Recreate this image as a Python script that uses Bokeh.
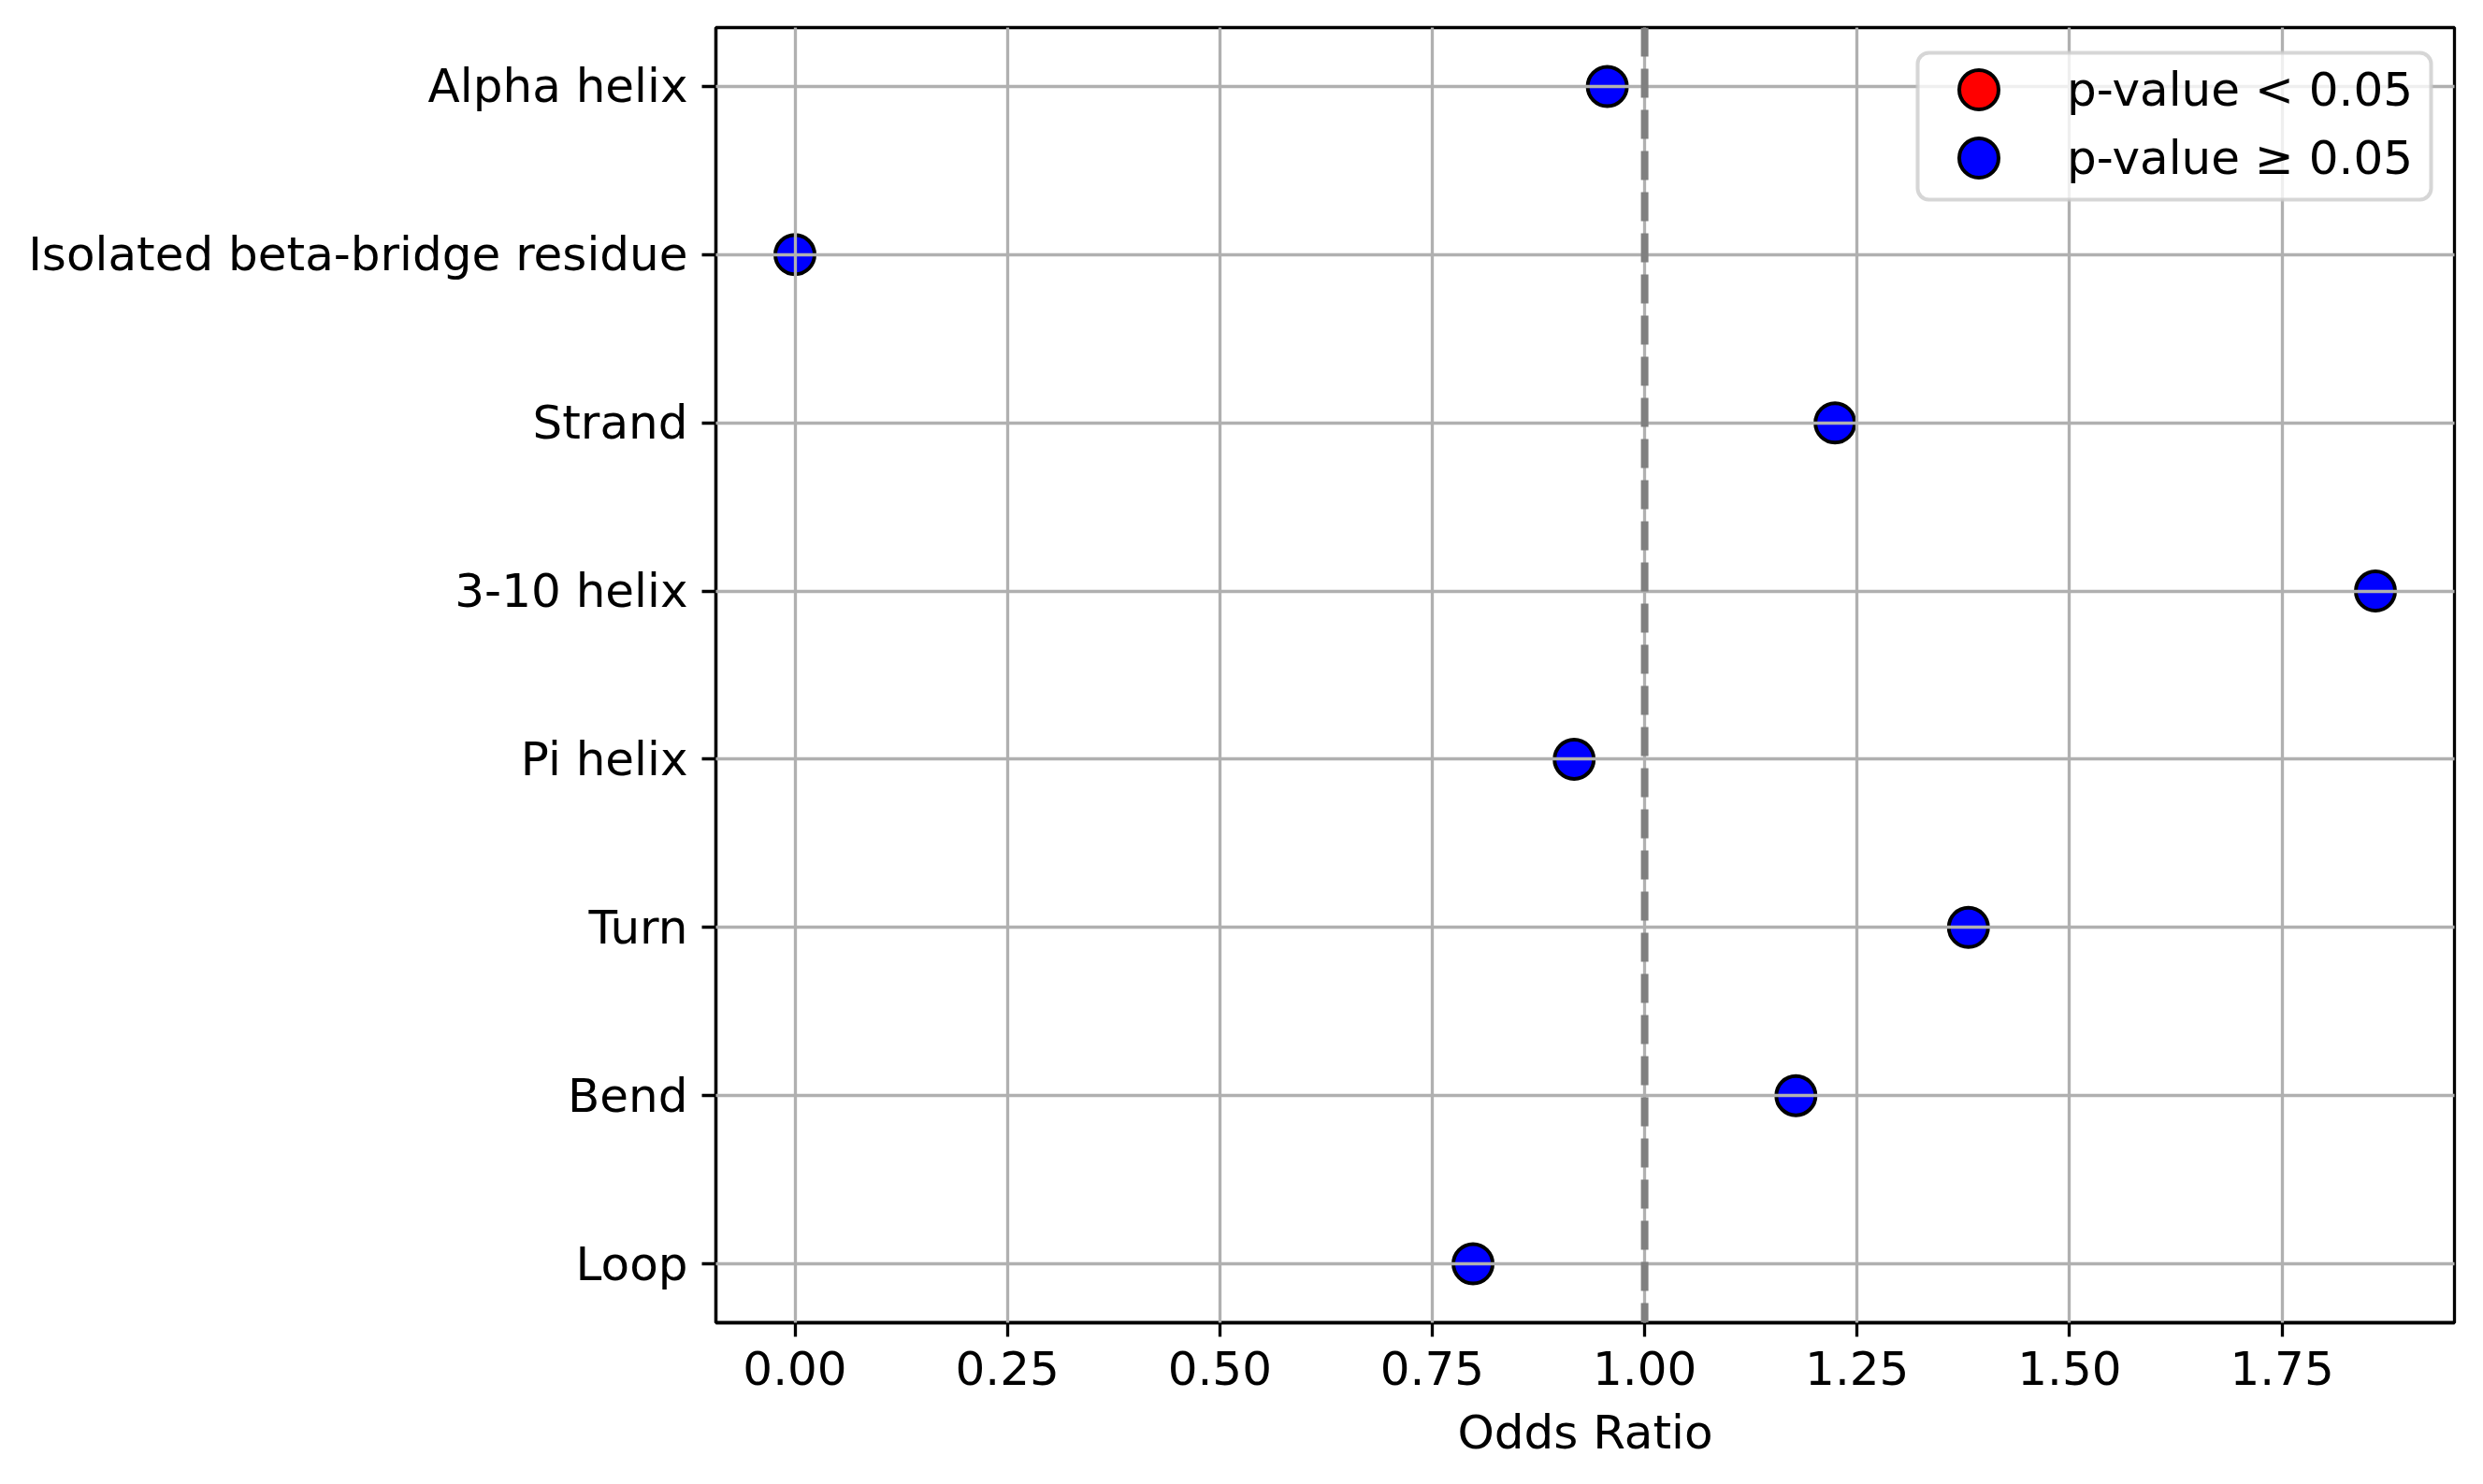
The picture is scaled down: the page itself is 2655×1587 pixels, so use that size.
from bokeh.plotting import figure
from bokeh.models import (Range1d, FixedTicker, Span, Legend, LegendItem,
                          ColumnDataSource, CDSView, BooleanFilter, BoxAnnotation)
from bokeh.embed import file_html
from bokeh.resources import INLINE

categories = ["Alpha helix", "Isolated beta-bridge residue", "Strand", "3-10 helix",
              "Pi helix", "Turn", "Bend", "Loop"]
odds_ratio = [0.956, 0.0, 1.224, 1.860, 0.917, 1.381, 1.178, 0.798]
significant = [False, False, False, False, False, False, False, False]
x_ticks = [0.0, 0.25, 0.5, 0.75, 1.0, 1.25, 1.5, 1.75]
x_tick_labels = ["0.00", "0.25", "0.50", "0.75", "1.00", "1.25", "1.50", "1.75"]
reference_line = 1.0

n = len(categories)
ypos = [n - 1 - i for i in range(n)]

source = ColumnDataSource(dict(x=odds_ratio, y=ypos, cat=categories))
view_sig = CDSView(filter=BooleanFilter(significant))
view_non = CDSView(filter=BooleanFilter([not s for s in significant]))

xmin, xmax = min(odds_ratio), max(odds_ratio)
xpad = 0.05 * (xmax - xmin)
ypad = 0.05 * (n - 1)

FONT = "DejaVu Sans"
FS = "50px"

p = figure(frame_width=1859, frame_height=1385,
           x_range=Range1d(xmin - xpad, xmax + xpad),
           y_range=Range1d(-ypad, n - 1 + ypad),
           output_backend="svg", toolbar_location=None,
           min_border_left=765, min_border_right=24,
           min_border_top=29, min_border_bottom=164)
p.background_fill_color = "white"
p.border_fill_color = "white"
p.outline_line_color = "black"
p.outline_line_width = 3.3

# axes
p.xaxis.ticker = FixedTicker(ticks=x_ticks)
p.xaxis.major_label_overrides = {t: l for t, l in zip(x_ticks, x_tick_labels)}
p.yaxis.ticker = FixedTicker(ticks=ypos)
p.yaxis.major_label_overrides = {y: c for y, c in zip(ypos, categories)}
p.xaxis.axis_label = "Odds Ratio"
for ax in (p.xaxis[0], p.yaxis[0]):
    ax.axis_line_width = 3.3
    ax.axis_line_color = "black"
    ax.major_tick_line_width = 3.3
    ax.major_tick_out = 15
    ax.major_tick_in = 0
    ax.minor_tick_line_color = None
    ax.major_label_standoff = 15
    ax.major_label_text_font = FONT
    ax.major_label_text_font_size = FS
    ax.major_label_text_color = "black"
    ax.axis_label_text_font = FONT
    ax.axis_label_text_font_size = FS
    ax.axis_label_text_font_style = "normal"
    ax.axis_label_text_color = "black"
    ax.axis_label_standoff = 19

# grid above points
for g in (p.xgrid[0], p.ygrid[0]):
    g.grid_line_color = "#b0b0b0"
    g.grid_line_width = 3.3
    g.level = "guide"
p.xgrid.ticker = FixedTicker(ticks=x_ticks)
p.ygrid.ticker = FixedTicker(ticks=ypos)

# significant points (none in this data); a hidden twin renderer supplies the legend swatch
r_sig = p.scatter("x", "y", source=source, view=view_sig, size=42,
                  fill_color="red", line_color="black", line_width=4)
r_sig_legend = p.scatter("x", "y", source=source, size=42,
                         fill_color="red", line_color="black", line_width=4,
                         visible=False)
r_non = p.scatter("x", "y", source=source, view=view_non, size=42,
                  fill_color="blue", line_color="black", line_width=4)

p.add_layout(Span(location=reference_line, dimension="height", line_color="gray",
                  line_width=8, line_dash="31 13"))

# legend frame (screen units, relative to plot frame, y from bottom)
p.add_layout(BoxAnnotation(left=1285, right=1834, bottom=1201, top=1358,
                           left_units="screen", right_units="screen",
                           bottom_units="screen", top_units="screen",
                           fill_color="white", fill_alpha=0.8,
                           line_color="#cccccc", line_alpha=0.8, line_width=4,
                           border_radius=12, level="annotation"))

def make_legend(label, renderers, loc):
    return Legend(items=[LegendItem(label=label, renderers=renderers)],
                  location=loc, margin=0, padding=0,
                  glyph_width=105, glyph_height=105, spacing=0,
                  label_standoff=42, label_width=380,
                  label_text_font=FONT, label_text_font_size=FS,
                  label_text_color="black",
                  border_line_color=None, background_fill_alpha=0)

p.add_layout(make_legend("p-value < 0.05", [r_sig_legend], (1298, 1266)))
p.add_layout(make_legend("p-value \u2265 0.05", [r_non], (1298, 1193)))

open("out.html", "w").write(file_html(p, INLINE))
